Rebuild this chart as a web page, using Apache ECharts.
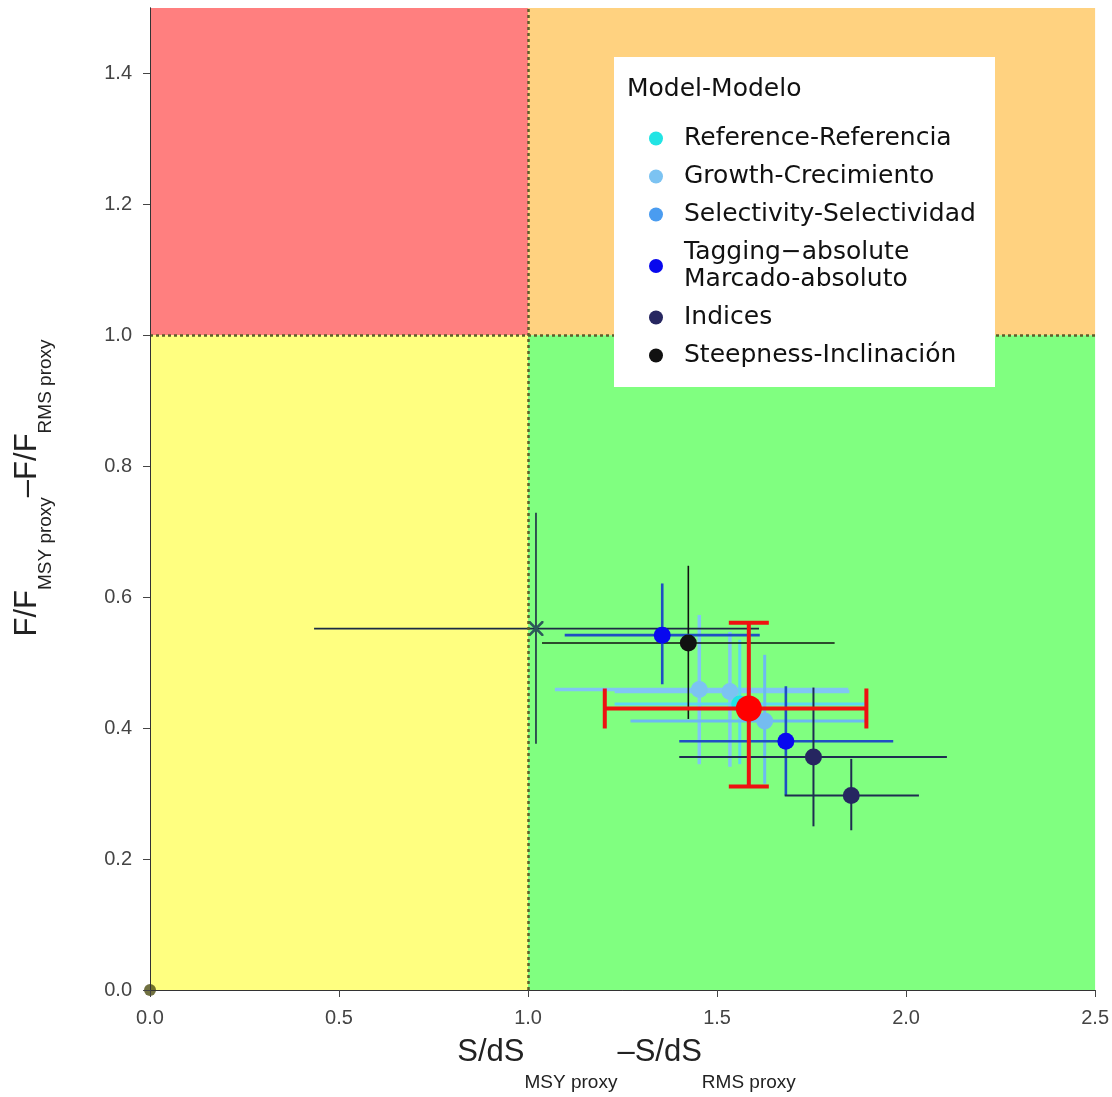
<!DOCTYPE html>
<html><head><meta charset="utf-8">
<script src="https://cdn.jsdelivr.net/npm/echarts@6/dist/echarts.min.js"></script>
<style>html,body{margin:0;padding:0;background:#fff;overflow:hidden}#c{width:1112px;height:1097px}</style>
</head><body><div id="c"></div>
<script>
// ---- axes ----
const xTickValues = [0, 0.5, 1.0, 1.5, 2.0, 2.5];
const yTickValues = [0, 0.2, 0.4, 0.6, 0.8, 1.0, 1.2, 1.4];
const xMax = 2.5;
const yMax = 1.5;
const xBreak = 1.0;
const yBreak = 1.0;

// ---- legend ----
const legendNames = ['Reference-Referencia', 'Growth-Crecimiento', 'Selectivity-Selectividad',
  'Tagging\u2212absolute\nMarcado-absoluto', 'Indices', 'Steepness-Inclinaci\u00f3n'];
const legendTitle = 'Model-Modelo';

// ---- data: [x, y, xLow, xHigh, yLow, yHigh] ----
const referenceRuns = [[1.560, 0.437, 1.229, 1.895, 0.345, 0.535]];
const growthRuns = [[1.453, 0.459, 1.071, 1.847, 0.345, 0.573],
                    [1.534, 0.456, 1.229, 1.850, 0.341, 0.547]];
const selectivityRuns = [[1.626, 0.411, 1.271, 1.895, 0.315, 0.512]];
const taggingRuns = [[1.355, 0.542, 1.097, 1.613, 0.467, 0.621],
                     [1.682, 0.380, 1.400, 1.966, 0.297, 0.464]];
const indicesRuns = [[1.755, 0.356, 1.400, 2.108, 0.250, 0.462],
                     [1.855, 0.297, 1.679, 2.034, 0.244, 0.353]];
const steepnessRuns = [[1.424, 0.530, 1.037, 1.811, 0.414, 0.648]];
const crossRun = [[1.021, 0.552, 0.434, 1.611, 0.376, 0.729]];
const combinedRun = [[1.584, 0.430, 1.203, 1.895, 0.311, 0.561]];
const originPoint = [[0, 0]];

const FONT = 'Liberation Sans, Arial, Helvetica, sans-serif';

function barRenderer(color, width, cap) {
  return function (params, api) {
    const x = api.value(0), y = api.value(1);
    const a = api.coord([api.value(2), y]), b = api.coord([api.value(3), y]);
    const c = api.coord([x, api.value(4)]), d = api.coord([x, api.value(5)]);
    const st = { stroke: color, lineWidth: width };
    const ch = [
      { type: 'line', shape: { x1: a[0], y1: a[1], x2: b[0], y2: b[1] }, style: st },
      { type: 'line', shape: { x1: c[0], y1: c[1], x2: d[0], y2: d[1] }, style: st }
    ];
    if (cap) {
      [a, b].forEach(p => ch.push({ type: 'line', shape: { x1: p[0], y1: p[1] - cap, x2: p[0], y2: p[1] + cap }, style: st }));
      [c, d].forEach(p => ch.push({ type: 'line', shape: { x1: p[0] - cap, y1: p[1], x2: p[0] + cap, y2: p[1] }, style: st }));
    }
    return { type: 'group', children: ch };
  };
}

function model(name, data, pointColor, barColor, barWidth, size, z, cap, symbol) {
  return [
    { type: 'custom', name: name + ' bars', data: data, z: z, silent: true,
      renderItem: barRenderer(barColor, barWidth, cap) },
    { type: 'scatter', name: name, data: data.map(r => [r[0], r[1]]), z: z + 0.5,
      symbol: symbol || 'circle', symbolSize: size, silent: true,
      itemStyle: { color: pointColor, opacity: 1 } }
  ];
}

const crossSymbol = 'path://M0,0L2.5,0L10,7.5L17.5,0L20,0L20,2.5L12.5,10L20,17.5L20,20L17.5,20L10,12.5L2.5,20L0,20L0,17.5L7.5,10L0,2.5Z';

const series = [
  { type: 'scatter', name: 'bg', data: [], z: 1, silent: true,
    markArea: { silent: true, itemStyle: { opacity: 1 }, data: [
      [{ xAxis: 0, yAxis: yBreak, itemStyle: { color: '#ff7f7f' } }, { xAxis: xBreak, yAxis: yMax }],
      [{ xAxis: xBreak, yAxis: yBreak, itemStyle: { color: '#ffd280' } }, { xAxis: xMax, yAxis: yMax }],
      [{ xAxis: 0, yAxis: 0, itemStyle: { color: '#ffff80' } }, { xAxis: xBreak, yAxis: yBreak }],
      [{ xAxis: xBreak, yAxis: 0, itemStyle: { color: '#80ff80' } }, { xAxis: xMax, yAxis: yBreak }]
    ] } },
  { type: 'scatter', name: 'refs', data: [], z: 1.5, silent: true,
    markLine: { silent: true, symbol: ['none', 'none'], label: { show: false },
      lineStyle: { type: [3, 3], width: 2.5, color: '#5e5e2a', opacity: 1 },
      data: [{ xAxis: xBreak }, { yAxis: yBreak }] } },
  ...model(legendNames[1], growthRuns, '#7cc3f2', '#80c6f4', 3.5, 17, 2),
  ...model(legendNames[0], referenceRuns, '#22e4e4', '#5fd6f2', 3, 17, 2.2),
  ...model(legendNames[2], selectivityRuns, '#74bcf0', '#6cbaf2', 3, 17, 2.4),
  ...model('cross', crossRun, '#2c5a5a', '#1c2c44', 1.6, 15, 3, 0, crossSymbol),
  ...model(legendNames[5], steepnessRuns, '#111111', '#111111', 1.6, 17, 3.2),
  ...model(legendNames[3], taggingRuns, '#0808ee', '#1f4fc4', 2.6, 17, 3.4),
  ...model(legendNames[4], indicesRuns, '#262660', '#1e2e50', 2, 17, 3.6),
  ...model('combined', combinedRun, '#ff0000', '#ee1111', 4, 26, 4, 20),
  { type: 'scatter', name: 'origin', data: originPoint, z: 4, symbolSize: 12, silent: true,
    clip: true, itemStyle: { color: '#4e4e12' } }
];

const legendColors = {};
legendColors[legendNames[0]] = '#22e4e4';
legendColors[legendNames[1]] = '#7cc3f2';
legendColors[legendNames[2]] = '#4a9cf0';
legendColors[legendNames[3]] = '#0808ee';
legendColors[legendNames[4]] = '#262660';
legendColors[legendNames[5]] = '#111111';

const axisCommon = {
  axisLine: { show: true, lineStyle: { color: '#333', width: 1 } },
  axisTick: { show: true, length: 7, lineStyle: { color: '#444' } },
  splitLine: { show: false },
  axisLabel: { color: '#444', fontSize: 20, fontFamily: FONT, formatter: v => v.toFixed(1) },
  z: 6
};

const option = {
  animation: false,
  backgroundColor: '#ffffff',
  grid: { left: 150, top: 8, width: 950, height: 990, show: false },
  xAxis: [
    Object.assign({}, axisCommon, {
      type: 'value', min: 0, max: xMax, interval: 0.5, position: 'bottom',
      axisLabel: Object.assign({}, axisCommon.axisLabel, { margin: 18, customValues: xTickValues }),
      axisTick: Object.assign({}, axisCommon.axisTick, { customValues: xTickValues }),
      name: '{m|S/dS}{s|MSY proxy}{m|\u2013S/dS}{s|RMS proxy}',
      nameLocation: 'middle', nameGap: 47,
      nameTextStyle: { fontFamily: FONT, color: '#222', padding: [0, 0, 0, 8], rich: {
        m: { fontSize: 31, lineHeight: 34, verticalAlign: 'top', fontFamily: FONT, color: '#222' },
        s: { fontSize: 19, lineHeight: 20, verticalAlign: 'top', padding: [36, 0, 0, 0], fontFamily: FONT, color: '#222' } } }
    }),
    { type: 'value', min: 0, max: xMax, position: 'top', z: 6,
      axisLine: { show: true, lineStyle: { color: '#333' } }, axisTick: { show: false }, axisLabel: { show: false }, splitLine: { show: false } }
  ],
  yAxis: [
    Object.assign({}, axisCommon, {
      type: 'value', min: 0, max: yMax, interval: 0.2, position: 'left',
      axisLabel: Object.assign({}, axisCommon.axisLabel, { margin: 18, customValues: yTickValues }),
      axisTick: Object.assign({}, axisCommon.axisTick, { customValues: yTickValues }),
      name: '{m|F/F}{s|MSY proxy}{m|\u2013F/F}{s|RMS proxy}',
      nameLocation: 'middle', nameGap: 104,
      nameTextStyle: { fontFamily: FONT, color: '#222', padding: [0, 0, 0, 22], rich: {
        m: { fontSize: 31, lineHeight: 34, verticalAlign: 'top', fontFamily: FONT, color: '#222' },
        s: { fontSize: 19, lineHeight: 20, verticalAlign: 'top', padding: [24, 0, 0, 0], fontFamily: FONT, color: '#222' } } }
    }),
    { type: 'value', min: 0, max: yMax, position: 'right', z: 6,
      axisLine: { show: true, lineStyle: { color: '#333' } }, axisTick: { show: false }, axisLabel: { show: false }, splitLine: { show: false } }
  ],
  legend: {
    orient: 'vertical', left: 649, top: 125, padding: 0, itemGap: 11,
    itemWidth: 14, itemHeight: 14, icon: 'circle', selectedMode: false, z: 20,
    data: legendNames.map(n => ({ name: n, itemStyle: { color: legendColors[n] } })),
    textStyle: { fontFamily: 'DejaVu Sans', fontSize: 25, lineHeight: 27, color: '#111', padding: [0, 0, 0, 16] }
  },
  graphic: [
    { type: 'rect', z: 10, shape: { x: 614, y: 57, width: 381, height: 330 }, style: { fill: '#ffffff' } },
    { type: 'text', z: 21, x: 627, y: 89, style: { text: legendTitle, fontFamily: 'DejaVu Sans', fontSize: 25, fill: '#111', verticalAlign: 'middle' } }
  ],
  series: series
};

const chart = echarts.init(document.getElementById('c'), null, { renderer: 'canvas' });
chart.setOption(option);
</script>
</body></html>
